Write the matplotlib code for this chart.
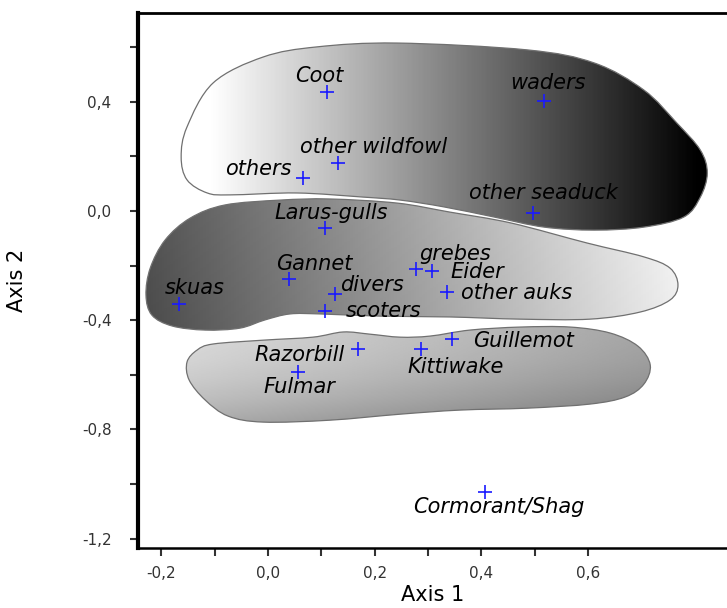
import numpy as np
import matplotlib
matplotlib.use("Agg")
import matplotlib.pyplot as plt
from matplotlib.path import Path
from matplotlib.patches import PathPatch
from matplotlib.ticker import FixedLocator

# --- data: ordination scores (Axis 1, Axis 2) ---
species = ["Coot", "waders", "other wildfowl", "others", "other seaduck",
           "Larus-gulls", "Gannet", "skuas", "divers", "scoters", "grebes",
           "Eider", "other auks", "Guillemot", "Razorbill", "Kittiwake",
           "Fulmar", "Cormorant/Shag"]
axis1 = [0.110, 0.518, 0.131, 0.065, 0.497, 0.106, 0.040, -0.167, 0.126,
         0.106, 0.278, 0.308, 0.336, 0.345, 0.168, 0.287, 0.057, 0.407]
axis2 = [0.435, 0.404, 0.177, 0.122, -0.006, -0.062, -0.249, -0.341, -0.304,
         -0.366, -0.214, -0.219, -0.295, -0.470, -0.505, -0.505, -0.589, -1.029]

# group outlines (hand-drawn hulls in the original)
hull1_x = [-0.163, -0.152, -0.103, -0.009, 0.092, 0.242, 0.486, 0.612, 0.705,
           0.767, 0.811, 0.824, 0.811, 0.780, 0.705, 0.612, 0.518, 0.424,
           0.330, 0.248, 0.178, 0.054, -0.071, -0.114, -0.152]
hull1_y = [0.198, 0.308, 0.469, 0.564, 0.601, 0.615, 0.590, 0.542, 0.443,
           0.322, 0.223, 0.139, 0.051, -0.022, -0.059, -0.070, -0.059, -0.022,
           0.015, 0.040, 0.051, 0.066, 0.059, 0.066, 0.114]
hull2_x = [-0.081, 0.023, 0.116, 0.242, 0.341, 0.456, 0.598, 0.705, 0.754,
           0.769, 0.754, 0.698, 0.604, 0.473, 0.341, 0.210, 0.098, 0.041,
           -0.006, -0.053, -0.118, -0.180, -0.218, -0.229, -0.221, -0.193, -0.146]
hull2_y = [0.022, 0.040, 0.044, 0.029, -0.004, -0.044, -0.117, -0.168, -0.209,
           -0.271, -0.326, -0.370, -0.396, -0.396, -0.388, -0.385, -0.377, -0.377,
           -0.399, -0.429, -0.436, -0.421, -0.381, -0.308, -0.209, -0.106, -0.026]
hull3_x = [-0.103, -0.009, 0.084, 0.141, 0.191, 0.248, 0.304, 0.379, 0.473,
           0.567, 0.642, 0.694, 0.717, 0.705, 0.670, 0.604, 0.486, 0.360,
           0.248, 0.116, -0.009, -0.075, -0.118, -0.148, -0.152, -0.133]
hull3_y = [-0.487, -0.473, -0.462, -0.443, -0.451, -0.462, -0.458, -0.436, -0.425,
           -0.425, -0.447, -0.495, -0.564, -0.634, -0.681, -0.707, -0.722, -0.729,
           -0.744, -0.766, -0.773, -0.751, -0.692, -0.619, -0.553, -0.509]

x_major = [-0.2, 0.0, 0.2, 0.4, 0.6]
x_minor = [-0.1, 0.1, 0.3, 0.5]
y_major = [0.4, 0.0, -0.4, -0.8, -1.2]
y_minor = [0.6, 0.2, -0.2, -0.6, -1.0]

# label placement: (dx, dy) in pixels from the marker, horizontal alignment
label_pos = {
    "Coot": (-7, 16, "center"), "waders": (4, 18, "center"),
    "other wildfowl": (-38, 16, "left"), "others": (-11, 9, "right"),
    "other seaduck": (-64, 20, "left"), "Larus-gulls": (7, 15, "center"),
    "Gannet": (25, 15, "center"), "skuas": (16, 16, "center"),
    "divers": (5, 9, "left"), "scoters": (21, 0, "left"),
    "grebes": (3, 15, "left"), "Eider": (18, -1, "left"),
    "other auks": (14, -1, "left"), "Guillemot": (21, -2, "left"),
    "Razorbill": (-13, -6, "right"), "Kittiwake": (35, -18, "center"),
    "Fulmar": (1, -15, "center"), "Cormorant/Shag": (14, -15, "center"),
}


def smooth_path(xs, ys):
    # closed Catmull-Rom curve expressed as cubic Bezier segments
    p = np.column_stack([xs, ys])
    n = len(p)
    verts = [p[0]]
    codes = [Path.MOVETO]
    for i in range(n):
        p0, p1, p2, p3 = p[i - 1], p[i], p[(i + 1) % n], p[(i + 2) % n]
        verts += [p1 + (p2 - p0) / 6, p2 - (p3 - p1) / 6, p2]
        codes += [Path.CURVE4] * 3
    verts.append(p[0])
    codes.append(Path.CLOSEPOLY)
    return Path(verts, codes)


def gradient_blob(ax, xs, ys, shade):
    patch = PathPatch(smooth_path(xs, ys), facecolor="none",
                      edgecolor="#707070", lw=0.9, zorder=2)
    ax.add_patch(patch)
    x0, x1, y0, y1 = min(xs) - 0.02, max(xs) + 0.02, min(ys) - 0.02, max(ys) + 0.02
    gx, gy = np.meshgrid(np.linspace(0, 1, 200), np.linspace(0, 1, 100))
    im = ax.imshow(shade(gx, gy), cmap="gray", vmin=0, vmax=1,
                   extent=[x0, x1, y0, y1], origin="lower", aspect="auto",
                   interpolation="bilinear", zorder=1)
    im.set_clip_path(patch)


fig = plt.figure(figsize=(7.27, 6.08), dpi=100)
ax = fig.add_axes([0.1898, 0.0987, 0.8102, 0.8799])

gradient_blob(ax, hull1_x, hull1_y, lambda u, v: np.clip(1.08 - 1.12 * u, 0, 1))
gradient_blob(ax, hull2_x, hull2_y, lambda u, v: 0.28 + 0.66 * u + 0.04 * v)
gradient_blob(ax, hull3_x, hull3_y, lambda u, v: 0.86 - 0.22 * u - 0.2 * (1 - v) ** 2)

ax.plot(axis1, axis2, linestyle="none", marker="+", markersize=10,
        markeredgewidth=1.2, color="#1a1aff", zorder=4)

for name, x, y in zip(species, axis1, axis2):
    dx, dy, ha = label_pos[name]
    ax.annotate(name, (x, y), xytext=(dx, dy), textcoords="offset pixels",
                ha=ha, va="center", fontsize=15, style="italic",
                color="black", zorder=5)

ax.set_xlim(-0.244, 0.861)
ax.set_ylim(-1.234, 0.725)

ax.xaxis.set_major_locator(FixedLocator(x_major))
ax.xaxis.set_minor_locator(FixedLocator(x_minor))
ax.yaxis.set_major_locator(FixedLocator(y_major))
ax.yaxis.set_minor_locator(FixedLocator(y_minor))
ax.set_xticklabels([f"{v:.1f}".replace(".", ",") for v in x_major])
ax.set_yticklabels([f"{v:.1f}".replace(".", ",") for v in y_major])
ax.tick_params(which="both", direction="out", length=6, width=1.5, color="#333333")
ax.tick_params(axis="x", pad=7, labelsize=11, labelcolor="#333333")
ax.tick_params(axis="y", pad=13, labelsize=11, labelcolor="#333333")

ax.spines["right"].set_visible(False)
ax.spines["left"].set_linewidth(3)
ax.spines["top"].set_linewidth(2)
ax.spines["bottom"].set_linewidth(1.8)

ax.set_xlabel("Axis 1", fontsize=15, va="center")
ax.set_ylabel("Axis 2", fontsize=15)
ax.xaxis.set_label_coords(0.5, -0.087)
ax.yaxis.set_label_coords(-0.188, 0.5)

fig.savefig("out.png", dpi=100)
